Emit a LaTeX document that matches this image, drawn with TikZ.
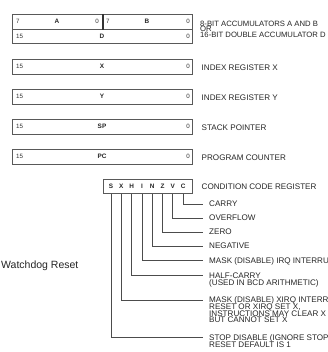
\documentclass[tikz,border=0pt]{standalone}
\usepackage{fontspec}
\setmainfont{Liberation Sans}
\newcommand\tightlns{\lineskiplimit=-10pt\relax\lineskip=0pt\relax}
\begin{document}
\begin{tikzpicture}[x=1pt,y=-1pt,
  reg/.style={draw=black!65, line width=0.9pt, inner sep=0pt, anchor=north west, minimum width=180pt, minimum height=15pt},
  bitn/.style={font=\fontsize{6.2}{7}\selectfont, text=black!80, inner sep=0pt},
  rname/.style={font=\bfseries\fontsize{6.4}{7}\selectfont, text=black!85, inner sep=0pt},
  lab/.style={font=\fontsize{8.1}{6.8}\selectfont\tightlns, text=black!85, inner sep=0pt, align=left, anchor=north west},
  ccrl/.style={font=\bfseries\fontsize{6.4}{7}\selectfont, text=black!85, inner sep=0pt},
  br/.style={draw=black!70, line width=0.8pt}
]
\clip (0,0) rectangle (328,352);
\fill[white] (0,0) rectangle (328,352);

% accumulators
\node[reg, minimum width=90pt] (rA) at (12,14) {};
\node[reg, minimum width=90pt] (rB) at (102,14) {};
\node[reg, minimum height=14pt] (rD) at (12,29) {};
\draw[draw=black!80, line width=1.4pt] (rA.north east) -- (rA.south east);
\node[bitn, anchor=west] (a7) at (16,21.5) {7};
\node[rname] (nA) at (57,21.5) {A};
\node[bitn, anchor=east] (a0) at (99,21.5) {0};
\node[bitn, anchor=west] (b7) at (106,21.5) {7};
\node[rname] (nB) at (147,21.5) {B};
\node[bitn, anchor=east] (b0) at (190,21.5) {0};
\node[bitn, anchor=west] (d15) at (16,36) {15};
\node[rname] (nD) at (102,36) {D};
\node[bitn, anchor=east] (d0) at (190,36) {0};
\node[lab, font=\fontsize{7.7}{5.7}\selectfont\tightlns] (lAcc) at (200,20.6) {8-BIT ACCUMULATORS A AND B\\OR\\16-BIT DOUBLE ACCUMULATOR D};

% 16-bit registers
\foreach \nm/\txt/\y/\desc in {X/X/59/INDEX REGISTER X, Y/Y/89/INDEX REGISTER Y, SP/SP/119/STACK POINTER, PC/PC/149/PROGRAM COUNTER}{
  \node[reg] (r\nm) at (12,\y) {};
  \node[bitn, anchor=west] (h\nm) at (16,\y+7.5) {15};
  \node[rname] (n\nm) at (102,\y+7.5) {\txt};
  \node[bitn, anchor=east] (l\nm) at (190,\y+7.5) {0};
  \node[lab] (d\nm) at (201.5,\y+5.6) {\desc};
}

% condition code register
\node[reg, minimum width=89pt, minimum height=14pt] (ccr) at (103,179) {};
\node[lab] (lccr) at (201.5,184.1) {CONDITION CODE REGISTER};
\foreach \b [count=\i from 0] in {S,X,H,I,N,Z,V,C}{
  \node[ccrl] (c\b) at (111+10.3*\i,186) {\b};
}

% branch end points
\coordinate (eC) at (203,204);
\coordinate (eV) at (203,218);
\coordinate (eZ) at (203,232);
\coordinate (eN) at (203,246);
\coordinate (eI) at (203,260.5);
\coordinate (eH) at (203,275.5);
\coordinate (eX) at (203,300);
\coordinate (eS) at (203,337);
\foreach \b in {C,V,Z,N,I,H,X,S}{
  \draw[br] (c\b |- ccr.south) |- (e\b);
}

\node[lab] (tC) at (209,201.1) {CARRY};
\node[lab] (tV) at (209,215.1) {OVERFLOW};
\node[lab] (tZ) at (209,229.1) {ZERO};
\node[lab] (tN) at (209,243.1) {NEGATIVE};
\node[lab] (tI) at (209,257.6) {MASK (DISABLE) IRQ INTERRUPTS};
\node[lab] (tH) at (209,272.4) {HALF-CARRY\\(USED IN BCD ARITHMETIC)};
\node[lab] (tX) at (209,296.4) {MASK (DISABLE) XIRQ INTERRUPTS\\RESET OR XIRQ SET X,\\INSTRUCTIONS MAY CLEAR X\\BUT CANNOT SET X};
\node[lab] (tS) at (209,334.2) {STOP DISABLE (IGNORE STOP OPCODES)\\RESET DEFAULT IS 1};

\node[font=\fontsize{10.5}{12}\selectfont, text=black!85, inner sep=0pt, anchor=west] (wd) at (1,266) {Watchdog Reset};
\end{tikzpicture}
\end{document}
